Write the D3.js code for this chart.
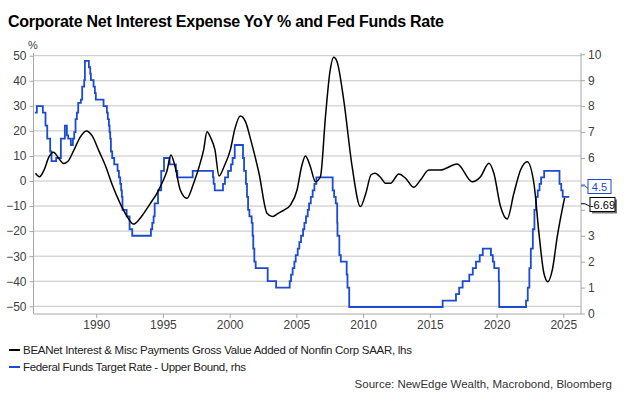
<!DOCTYPE html>
<html>
<head>
<meta charset="utf-8">
<script src="https://cdn.jsdelivr.net/npm/d3@7"></script>
<style>
  body { margin: 0; background: #fff; }
  svg text { font-family: "Liberation Sans", Arial, sans-serif; }
</style>
</head>
<body>
<script>
// BEA net interest YoY % (lhs)
const interestYears = [1985.45, 1985.75, 1986.1, 1986.45, 1986.8, 1987.2, 1987.55, 1987.9, 1988.3, 1988.8,
  1989.25, 1989.7, 1990.2, 1990.7, 1991.2, 1991.8, 1992.3, 1992.8, 1993.2, 1993.55, 1994.05, 1994.55,
  1995.0, 1995.3, 1995.6, 1995.9, 1996.3, 1996.8, 1997.3, 1997.7, 1998.05, 1998.3, 1998.6, 1998.9, 1999.2,
  1999.6, 2000.05, 2000.4, 2000.8, 2001.2, 2001.6, 2002.2, 2002.8, 2003.2, 2003.6, 2004.1, 2004.55,
  2005.05, 2005.4, 2005.68, 2006.05, 2006.43, 2006.8, 2007.18, 2007.5, 2007.8, 2008.05, 2008.55, 2009.18,
  2009.8, 2010.2, 2010.6, 2010.9, 2011.3, 2011.68, 2012.05, 2012.68, 2013.18, 2013.8, 2014.3, 2014.93,
  2015.8, 2017.05, 2018.18, 2018.8, 2019.43, 2019.8, 2020.3, 2020.8, 2021.3, 2021.8, 2022.3, 2022.8,
  2023.18, 2023.55, 2023.85, 2024.18, 2024.55, 2025.1];
const interestYoy = [3.1, 1.7, 4.5, 9.5, 11.5, 9.0, 7.0, 8.0, 12.0, 17.5,
  20.0, 18.0, 12.0, 6.0, -1.5, -9.0, -14.0, -17.2, -15.5, -13.0, -9.0, -4.9,
  0.0, 4.0, 10.4, 6.0, -3.6, -6.9, -0.9, 5.5, 12.4, 19.7, 17.0, 12.4, 2.0,
  6.0, 12.4, 21.0, 25.9, 23.5, 16.0, 3.1, -12.9, -14.2, -13.0, -11.5, -9.6,
  -3.6, 6.0, 10.0, 5.7, -0.3, 1.7, 25.7, 43.0, 49.4, 47.6, 32.3, 5.7,
  -10.2, -5.0, 2.5, 3.1, 1.5, -0.9, -0.9, 2.8, 1.1, -2.5, 0.4, 4.4,
  4.4, 6.8, -0.3, 1.7, 7.1, 3.1, -10.2, -15.2, -4.9, 4.4, 7.7, -0.9,
  -20.9, -36.8, -40.2, -35.5, -22.2, -6.69];

// Fed funds target, upper bound (rhs): date of each change and new level
const fedYears = [1985.4, 1985.55, 1986.0, 1986.2, 1986.33, 1986.55, 1986.65, 1987.0, 1987.35, 1987.65,
  1987.8, 1987.9, 1988.1, 1988.25, 1988.35, 1988.45, 1988.55, 1988.65, 1988.85, 1988.95,
  1989.1, 1989.15, 1989.45, 1989.55, 1989.6, 1989.8, 1989.9, 1989.97, 1990.55, 1990.8,
  1990.87, 1990.95, 1991.0, 1991.05, 1991.1, 1991.2, 1991.35, 1991.6, 1991.7, 1991.8,
  1991.87, 1991.92, 1991.97, 1992.28, 1992.5, 1992.7, 1994.1, 1994.2, 1994.3, 1994.38,
  1994.63, 1994.87, 1995.08, 1995.5, 1995.97, 1996.08, 1997.23, 1998.75, 1998.8, 1998.88,
  1999.5, 1999.65, 1999.88, 2000.1, 2000.22, 2000.38, 2001.0, 2001.08, 2001.22, 2001.3,
  2001.38, 2001.48, 2001.65, 2001.72, 2001.77, 2001.85, 2001.95, 2002.85, 2003.48, 2004.5,
  2004.6, 2004.72, 2004.85, 2004.95, 2005.1, 2005.22, 2005.35, 2005.5, 2005.6, 2005.72,
  2005.85, 2005.95, 2006.08, 2006.22, 2006.35, 2006.5, 2007.72, 2007.83, 2007.95, 2008.06,
  2008.08, 2008.22, 2008.33, 2008.77, 2008.83, 2008.96, 2015.96, 2016.96, 2017.2, 2017.46,
  2017.96, 2018.22, 2018.46, 2018.74, 2018.97, 2019.58, 2019.72, 2019.83, 2020.17, 2020.2,
  2022.21, 2022.34, 2022.46, 2022.57, 2022.72, 2022.84, 2022.96, 2023.09, 2023.22, 2023.34,
  2023.57, 2024.72, 2024.85, 2024.96, 2025.45];
const fedRate = [7.75, 8.0, 7.75, 7.25, 6.75, 6.25, 5.875, 6.0, 6.75, 7.25,
  6.875, 6.75, 6.5, 6.75, 7.0, 7.5, 7.75, 8.125, 8.25, 8.75,
  9.0, 9.75, 9.5, 9.25, 9.0, 8.75, 8.5, 8.25, 8.0, 7.75,
  7.5, 7.25, 7.0, 6.75, 6.25, 6.0, 5.75, 5.5, 5.25, 5.0,
  4.75, 4.5, 4.0, 3.75, 3.25, 3.0, 3.25, 3.5, 3.75, 4.25,
  4.75, 5.5, 6.0, 5.75, 5.5, 5.25, 5.5, 5.25, 5.0, 4.75,
  5.0, 5.25, 5.5, 5.75, 6.0, 6.5, 6.0, 5.5, 5.0, 4.5,
  4.0, 3.75, 3.5, 3.0, 2.5, 2.0, 1.75, 1.25, 1.0, 1.25,
  1.5, 1.75, 2.0, 2.25, 2.5, 2.75, 3.0, 3.25, 3.5, 3.75,
  4.0, 4.25, 4.5, 4.75, 5.0, 5.25, 4.75, 4.5, 4.25, 3.5,
  3.0, 2.25, 2.0, 1.5, 1.0, 0.25, 0.5, 0.75, 1.0, 1.25,
  1.5, 1.75, 2.0, 2.25, 2.5, 2.25, 2.0, 1.75, 1.25, 0.25,
  0.5, 1.0, 1.75, 2.5, 3.25, 4.0, 4.5, 4.75, 5.0, 5.25,
  5.5, 5.0, 4.75, 4.5, 4.5];

const yearTicks = [1990, 1995, 2000, 2005, 2010, 2015, 2020, 2025];
const leftTicks = [-50, -40, -30, -20, -10, 0, 10, 20, 30, 40, 50];
const rightTicks = [0, 1, 2, 3, 4, 5, 6, 7, 8, 9, 10];

const title = "Corporate Net Interest Expense YoY % and Fed Funds Rate";
const legendNames = ["BEANet Interest & Misc Payments Gross Value Added of Nonfin Corp SAAR, lhs",
  "Federal Funds Target Rate - Upper Bound, rhs"];
const source = "Source: NewEdge Wealth, Macrobond, Bloomberg";

((g) => {
  const W = 626, H = 396;
  const blue = "#1a4bd0", gridc = "#c4c4c4", axc = "#a6a6a6", txt = "#404040";

  const svg = d3.select("body").append("svg")
    .attr("width", W).attr("height", H);

  const x = d3.scaleLinear().domain([1985.3, 2026.33]).range([33.5, 581]);
  const yL = d3.scaleLinear().domain([-50, 50]).range([306.3, 55.7]);
  const yR = d3.scaleLinear().domain([0, 10]).range([313.5, 54.3]);
  const bottom = 314;

  // gridlines
  svg.append("g").selectAll("line").data(leftTicks).join("line")
    .attr("x1", x.range()[0]).attr("x2", x.range()[1])
    .attr("y1", d => yL(d)).attr("y2", d => yL(d))
    .attr("stroke", gridc).attr("stroke-width", 1);

  // axes
  const axL = svg.append("g").attr("transform", "translate(33.5,0)")
    .call(d3.axisLeft(yL).tickValues(leftTicks).tickSize(4).tickPadding(3));
  // labels 4 and 5 sit under the end-value boxes
  const axR = svg.append("g").attr("transform", "translate(581,0)")
    .call(d3.axisRight(yR).tickValues(rightTicks).tickSize(4).tickPadding(3)
      .tickFormat(d => (d === 4 || d === 5) ? "" : d));
  const axB = svg.append("g").attr("transform", "translate(0," + bottom + ")")
    .call(d3.axisBottom(x).tickValues(yearTicks).tickFormat(d3.format("d")).tickSize(4).tickPadding(2));

  [axL, axR, axB].forEach(a => {
    a.select(".domain").remove();
    a.selectAll(".tick line").attr("stroke", axc);
    a.selectAll("text").attr("fill", txt).style("font-size", "12px");
  });
  // axis lines run the whole plot height
  svg.append("line").attr("x1", 33.5).attr("x2", 33.5).attr("y1", 53).attr("y2", bottom)
    .attr("stroke", axc);
  svg.append("line").attr("x1", 581).attr("x2", 581).attr("y1", 53).attr("y2", bottom)
    .attr("stroke", axc);
  svg.append("line").attr("x1", 33.5).attr("x2", 581).attr("y1", bottom).attr("y2", bottom)
    .attr("stroke", axc);

  // fed funds, step line
  const fed = fedYears.map((t, i) => [t, fedRate[i]]);
  svg.append("path").datum(fed)
    .attr("fill", "none").attr("stroke", blue).attr("stroke-width", 1.8)
    .attr("d", d3.line().x(d => x(d[0])).y(d => yR(d[1])).curve(d3.curveStepAfter));

  // interest expense yoy
  const ie = interestYears.map((t, i) => [t, interestYoy[i]]);
  svg.append("path").datum(ie)
    .attr("fill", "none").attr("stroke", "#000").attr("stroke-width", 1.5)
    .attr("d", d3.line().x(d => x(d[0])).y(d => yL(d[1])).curve(d3.curveMonotoneX));

  // end value callouts
  const callout = (tipY, boxY, w, label, col, shadow) => {
    const bx = shadow ? 590 : 588;
    if (shadow) {
      svg.append("rect").attr("x", bx + 2).attr("y", boxY + 2).attr("width", w).attr("height", 14)
        .attr("fill", "#777");
    }
    svg.append("path")
      .attr("d", `M581,${tipY}L585,${tipY}L${bx},${boxY + 9}`)
      .attr("fill", "none").attr("stroke", col).attr("stroke-width", 1);
    svg.append("rect").attr("x", bx).attr("y", boxY).attr("width", w).attr("height", 14)
      .attr("fill", "#fff").attr("stroke", col).attr("stroke-width", 1);
    svg.append("text").attr("x", bx + w / 2).attr("y", boxY + 11)
      .attr("text-anchor", "middle").attr("fill", col)
      .style("font-size", "11px").text(label);
  };
  const lastFed = fedRate[fedRate.length - 1];
  const lastIe = interestYoy[interestYoy.length - 1];
  callout(yR(lastFed) - 11, 179.5, 23, String(lastFed), blue, false);
  callout(yL(lastIe) + 6, 197.5, 25, String(lastIe), "#000", true);

  // title and unit
  svg.append("text").attr("x", 8).attr("y", 27)
    .attr("textLength", 436).attr("lengthAdjust", "spacing")
    .style("font-size", "16px").style("font-weight", "bold").attr("fill", "#000")
    .text(title);
  svg.append("text").attr("x", 28).attr("y", 49)
    .style("font-size", "11px").attr("fill", txt).text("%");

  // legend
  const lg = svg.append("g");
  [["#000", 350], [blue, 367]].forEach((d, i) => {
    lg.append("line").attr("x1", 9).attr("x2", 20).attr("y1", d[1]).attr("y2", d[1])
      .attr("stroke", d[0]).attr("stroke-width", 2);
    lg.append("text").attr("x", 23).attr("y", d[1] + 4)
      .style("font-size", "11.5px").attr("fill", "#222")
      .attr("textLength", i === 0 ? 389 : 223).attr("lengthAdjust", "spacing")
      .text(legendNames[i]);
  });
  svg.append("text").attr("x", 612).attr("y", 388).attr("text-anchor", "end")
    .style("font-size", "11.5px").attr("fill", "#333")
    .text(source);
})(this);
</script>
</body>
</html>
